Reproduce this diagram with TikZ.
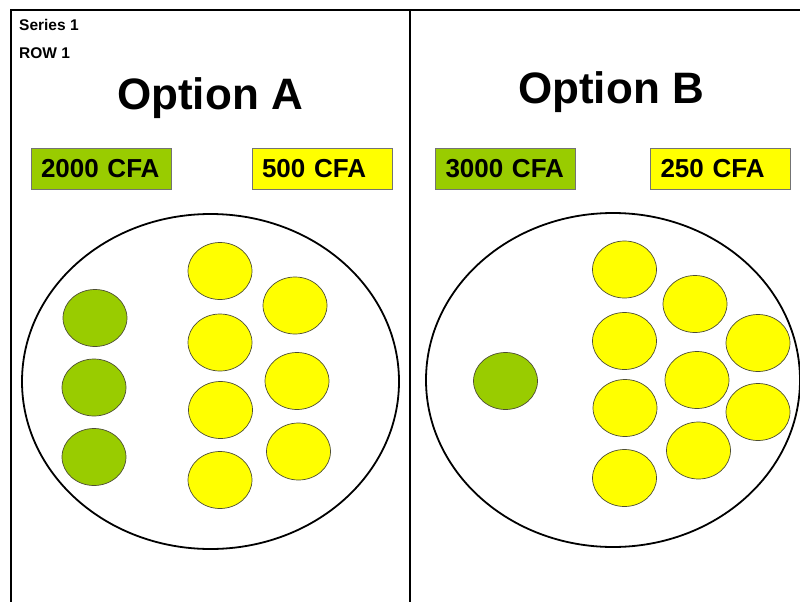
\documentclass[tikz,border=0pt]{standalone}
\usepackage{fontspec}
\setmainfont{Liberation Sans}
\usetikzlibrary{shapes.geometric}
\definecolor{coingreen}{HTML}{99CC00}
\definecolor{coinyellow}{HTML}{FFFF00}
\definecolor{coinedge}{HTML}{4D4D33}
\tikzset{
  frameline/.style={line width=2pt, black},
  purse/.style={draw=black, line width=1.8pt, ellipse, inner sep=0pt, fill=none},
  coin/.style={draw=coinedge, line width=0.7pt, ellipse, inner sep=0pt,
               minimum width=64pt, minimum height=57pt},
  greencoin/.style={coin, fill=coingreen},
  yellowcoin/.style={coin, fill=coinyellow},
  pricetag/.style={draw=black!55, line width=0.6pt, rectangle, inner ysep=0pt,
                   inner xsep=10pt, text width=120pt, minimum height=41pt, align=left,
                   font=\fontsize{26}{29}\selectfont\bfseries},
  heading/.style={font=\fontsize{44}{50}\selectfont\bfseries, inner sep=0pt},
  smalllabel/.style={font=\fontsize{15.5}{18}\selectfont\bfseries, inner sep=0pt, anchor=base west}
}
\begin{document}
\begin{tikzpicture}[x=1pt, y=-1pt]
  \useasboundingbox (0,0) rectangle (800,602);

  % page frame and divider
  \coordinate (fl) at (11,603);
  \coordinate (ftl) at (11,10);
  \coordinate (ftr) at (801,10);
  \coordinate (dt) at (410,10);
  \coordinate (db) at (410,603);
  \draw[frameline] (fl) -- (ftl) -- (ftr);
  \draw[frameline] (dt) -- (db);

  % corner labels
  \node[smalllabel] (series) at (19,31) {Series 1};
  \node[smalllabel] (row) at (19,59) {ROW 1};

  % headings
  \node[heading, anchor=base] (optA) at (210,109) {Option A};
  \node[heading, anchor=base] (optB) at (611,103) {Option B};

  % price tags
  \node[pricetag, fill=coingreen] (tagA1) at (101,168.5) {\mbox{2000 CFA}};
  \node[pricetag, fill=coinyellow] (tagA2) at (322,168.5) {\mbox{500 CFA}};
  \node[pricetag, fill=coingreen] (tagB1) at (505.5,168.5) {\mbox{3000 CFA}};
  \node[pricetag, fill=coinyellow] (tagB2) at (720.5,168.5) {\mbox{250 CFA}};

  % purses
  \node[purse, minimum width=377pt, minimum height=335pt] (purseA) at (210.5,381.5) {};
  \node[purse, minimum width=374pt, minimum height=334pt] (purseB) at (613,380) {};

  % Option A coins
  \node[greencoin] (ga1) at (95,318) {};
  \node[greencoin] (ga2) at (94,387.5) {};
  \node[greencoin] (ga3) at (94,457) {};

  \node[yellowcoin] (ya1) at (220,271) {};
  \node[yellowcoin] (ya2) at (220,342.5) {};
  \node[yellowcoin] (ya3) at (220.5,410) {};
  \node[yellowcoin] (ya4) at (220,480) {};
  \node[yellowcoin] (ya5) at (295,305.5) {};
  \node[yellowcoin] (ya6) at (297,381) {};
  \node[yellowcoin] (ya7) at (298.5,451.5) {};

  % Option B coins
  \node[greencoin] (gb1) at (505.5,381) {};

  \node[yellowcoin] (yb1) at (624.5,269.5) {};
  \node[yellowcoin] (yb2) at (624.5,341) {};
  \node[yellowcoin] (yb3) at (625,408) {};
  \node[yellowcoin] (yb4) at (624.5,478) {};
  \node[yellowcoin] (yb5) at (695,304) {};
  \node[yellowcoin] (yb6) at (697,380) {};
  \node[yellowcoin] (yb7) at (698.5,450.5) {};
  \node[yellowcoin] (yb8) at (758,343) {};
  \node[yellowcoin] (yb9) at (758,412) {};
\end{tikzpicture}
\end{document}
